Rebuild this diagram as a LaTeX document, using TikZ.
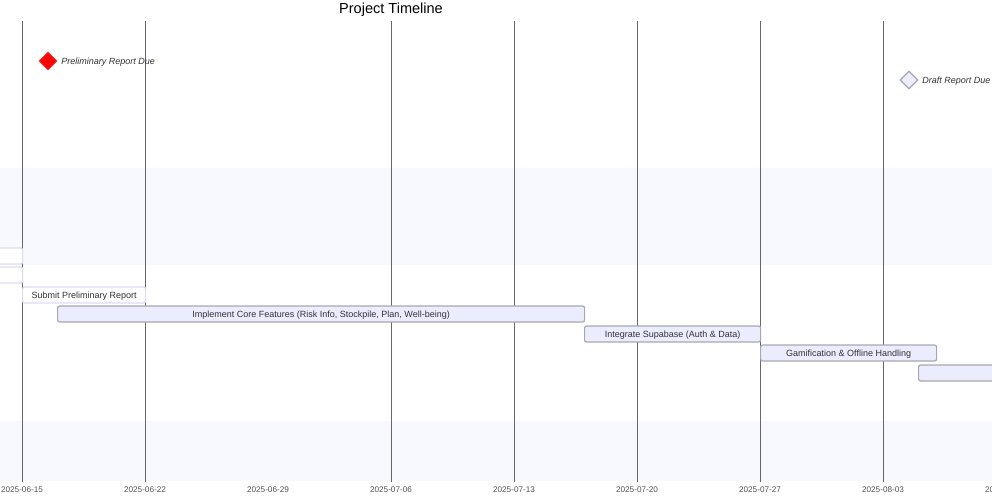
\documentclass[tikz,border=0pt]{standalone}
\usepackage{fontspec}
\setmainfont{Liberation Sans}
\usetikzlibrary{shapes.geometric}
\definecolor{bandc}{HTML}{F8F8FF}
\definecolor{gridc}{HTML}{666670}
\definecolor{barfill}{HTML}{ECECFF}
\definecolor{barborder}{HTML}{A8A8B0}
\definecolor{doneborder}{HTML}{DCDCF4}
\definecolor{txtc}{HTML}{333333}
\definecolor{tickc}{HTML}{555555}
\tikzset{
  gridline/.style={draw=gridc, line width=0.75pt},
  ticklbl/.style={text=tickc, font=\fontsize{6.15pt}{7pt}\selectfont, inner sep=0pt},
  taskbar/.style={draw=barborder, fill=barfill, line width=0.9pt, rounded corners=1.5pt, inner sep=0pt, minimum height=12pt, text depth=0pt, anchor=west, text=txtc, font=\fontsize{6.75pt}{8pt}\selectfont},
  donebar/.style={taskbar, draw=doneborder, fill=white},
  mstone/.style={diamond, aspect=1, inner sep=0pt, minimum size=13.5pt},
  mlabel/.style={anchor=west, inner sep=0pt, text depth=0pt, text=txtc, font=\fontsize{6.75pt}{8pt}\selectfont\itshape},
}
\begin{document}
\begin{tikzpicture}[x=0.75pt,y=-0.75pt]
\useasboundingbox (0,0) rectangle (992,499);
\clip (0,0) rectangle (992,499);
% section bands
\fill[bandc] (0,168) rectangle (992,265);
\fill[bandc] (0,421) rectangle (992,481);
% grid lines
\foreach \gx in {22,145,391,514,637,760,883}{
  \draw[gridline] (\gx,21) -- (\gx,482);
}
% tick labels
\node[ticklbl] (t1) at (22,489.5) {2025-06-15};
\node[ticklbl] (t2) at (145,489.5) {2025-06-22};
\node[ticklbl] (t3) at (268,489.5) {2025-06-29};
\node[ticklbl] (t4) at (391,489.5) {2025-07-06};
\node[ticklbl] (t5) at (514,489.5) {2025-07-13};
\node[ticklbl] (t6) at (637,489.5) {2025-07-20};
\node[ticklbl] (t7) at (760,489.5) {2025-07-27};
\node[ticklbl] (t8) at (883,489.5) {2025-08-03};
\node[ticklbl] (t9) at (1006,489.5) {2025-08-10};
% title
\node[inner sep=0pt, font=\fontsize{10.9pt}{13pt}\selectfont] (title) at (391,9.5) {Project Timeline};
% milestones
\node[mstone, fill=red, draw=red!80!white, line width=0.5pt] (m1) at (48,61) {};
\node[mlabel] (m1l) at (61,61) {Preliminary Report Due};
\node[mstone, fill=barfill, draw=barborder, line width=0.9pt] (m2) at (909,80) {};
\node[mlabel] (m2l) at (922,80) {Draft Report Due};
% tasks
\node[donebar, minimum width=40*0.75pt] (d1) at (-18,256) {};
\node[donebar, minimum width=40*0.75pt] (d2) at (-18,275) {};
\node[donebar, minimum width=123*0.75pt] (d3) at (22,295) {Submit Preliminary Report};
\node[taskbar, minimum width=527*0.75pt] (b1) at (57,314) {Implement Core Features (Risk Info, Stockpile, Plan, Well-being)};
\node[taskbar, minimum width=176*0.75pt] (b2) at (584,334) {Integrate Supabase (Auth \& Data)};
\node[taskbar, minimum width=176*0.75pt] (b3) at (760,353) {Gamification \& Offline Handling};
\node[taskbar, minimum width=120*0.75pt] (b4) at (918,373) {};
\end{tikzpicture}
\end{document}
